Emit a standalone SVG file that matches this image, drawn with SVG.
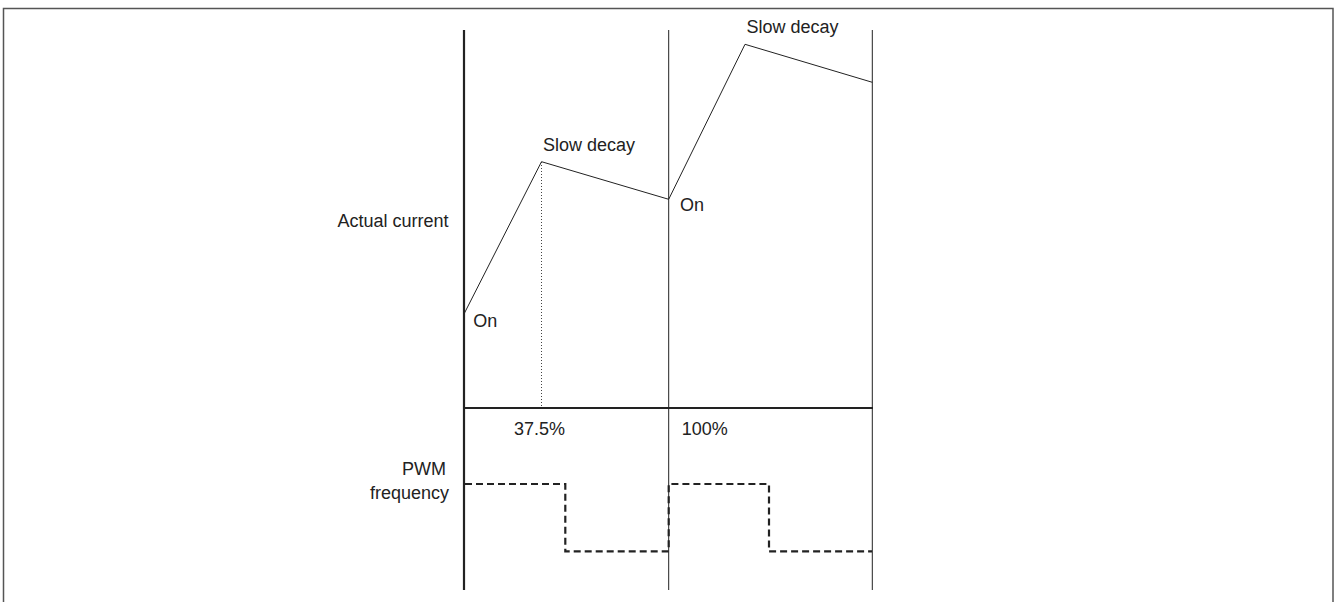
<svg xmlns="http://www.w3.org/2000/svg" width="1336" height="602" viewBox="0 0 1336 602">
<style>
  text { font-family: "Liberation Sans", Arial, sans-serif; font-size: 18px; fill: #222; }
  .thin { stroke: #222; stroke-width: 1; fill: none; }
  .thick { stroke: #222; stroke-width: 2.2; fill: none; }
  .dot { stroke: #444; stroke-width: 1; stroke-dasharray: 1 2; fill: none; }
  .pwm { stroke: #222; stroke-width: 2.2; stroke-dasharray: 7 4; fill: none; }
  .frame { stroke: #555; stroke-width: 1.5; fill: none; }
</style>
<rect width="1336" height="602" fill="#fff"/>
<g id="frame">
  <polyline class="frame" points="3.5,602 3.5,8.5 1333,8.5 1333,602"/>
</g>
<g id="axes">
  <line class="thick" x1="464" y1="30" x2="464" y2="590"/>
  <line class="thin" x1="668.7" y1="30" x2="668.7" y2="590"/>
  <line class="thin" x1="872.3" y1="30" x2="872.3" y2="590"/>
  <line class="thick" x1="464" y1="408" x2="873" y2="408"/>
  <line class="dot" x1="541.5" y1="162" x2="541.5" y2="407"/>
</g>
<g id="connectors">
  <polyline id="current" class="thin" points="464,314 541.5,161.7 668.7,199.3 745,44.3 872.3,82.3"/>
  <polyline id="pwm" class="pwm" points="465,484 565.3,484 565.3,551.3 668.7,551.3 668.7,484 769,484 769,551.3 872,551.3"/>
</g>
<g id="labels">
  <text x="337.5" y="226.7">Actual current</text>
  <text x="543" y="150.7">Slow decay</text>
  <text x="746.5" y="33.3">Slow decay</text>
  <text x="473.3" y="327.3">On</text>
  <text x="680" y="210.7">On</text>
  <text x="514" y="435">37.5%</text>
  <text x="681.7" y="435">100%</text>
  <text x="446" y="475" text-anchor="end">PWM</text>
  <text x="449" y="499" text-anchor="end">frequency</text>
</g>
</svg>
